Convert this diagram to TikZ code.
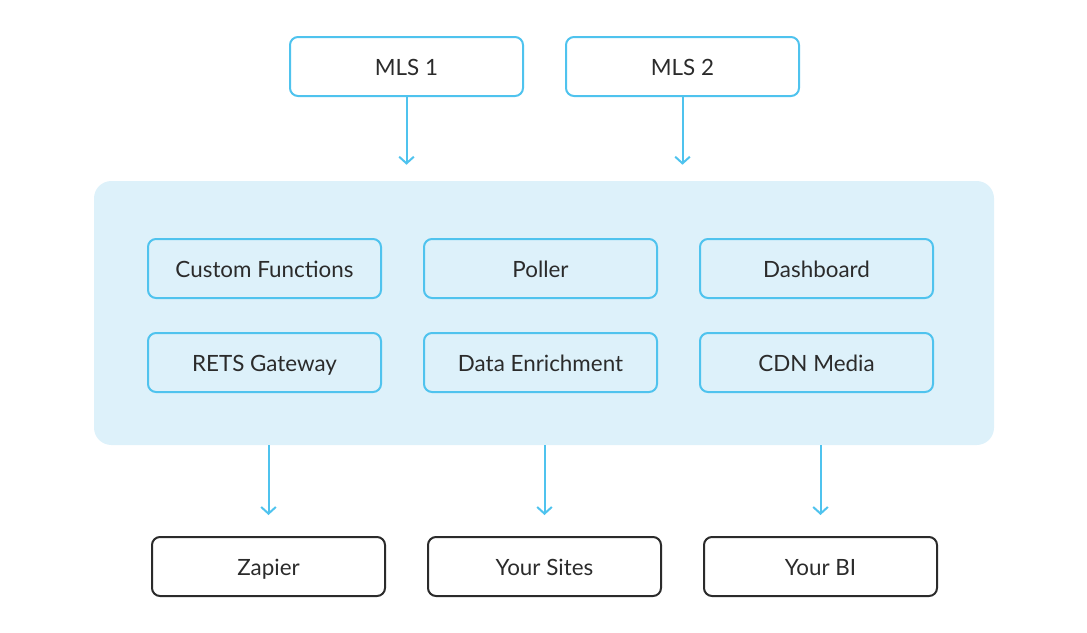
\documentclass[tikz,border=0pt]{standalone}
\usepackage{fontspec}
\setmainfont{Lato}
\usetikzlibrary{arrows.meta}
\definecolor{sky}{HTML}{4FC3EE}
\definecolor{panelfill}{HTML}{DDF1FA}
\definecolor{ink}{HTML}{2B2B2B}
\begin{document}
\begin{tikzpicture}[x=0.75pt,y=-0.75pt,
  box/.style={draw=sky,line width=1.5pt,rounded corners=6pt,minimum width=174.75pt,minimum height=44.25pt,inner sep=0pt,text=ink,text height=15pt,text depth=1.5pt,font=\fontsize{16.8pt}{20pt}\selectfont},
  dbox/.style={box,draw=ink},
  panel/.style={fill=panelfill,draw=none,rounded corners=13pt,minimum width=675pt,minimum height=198pt,inner sep=0pt},
  conn/.style={draw=sky,line width=1.5pt,-{Straight Barb[length=5pt,width=11pt,line width=1.5pt]}}
]
\useasboundingbox (0,0) rectangle (1087,632);
\node[panel] (panel) at (544,313) {};
\node[box] (mls1) at (406.5,66.5) {MLS 1};
\node[box] (mls2) at (682.5,66.5) {MLS 2};
\node[box] (cf) at (264.5,268.5) {Custom Functions};
\node[box] (poller) at (540.5,268.5) {Poller};
\node[box] (dash) at (816.5,268.5) {Dashboard};
\node[box] (rets) at (264.5,362.5) {RETS Gateway};
\node[box] (enrich) at (540.5,362.5) {Data Enrichment};
\node[box] (cdn) at (816.5,362.5) {CDN Media};
\node[dbox] (zap) at (268.5,566.5) {Zapier};
\node[dbox] (sites) at (544.5,566.5) {Your Sites};
\node[dbox] (bi) at (820.5,566.5) {Your BI};
\draw[conn,shorten >=12pt] (mls1.south) -- (mls1.south |- panel.north);
\draw[conn,shorten >=12pt] (mls2.south) -- (mls2.south |- panel.north);
\draw[conn,shorten >=15.75pt] (zap.north |- panel.south) -- (zap.north);
\draw[conn,shorten >=15.75pt] (sites.north |- panel.south) -- (sites.north);
\draw[conn,shorten >=15.75pt] (bi.north |- panel.south) -- (bi.north);
\end{tikzpicture}
\end{document}
